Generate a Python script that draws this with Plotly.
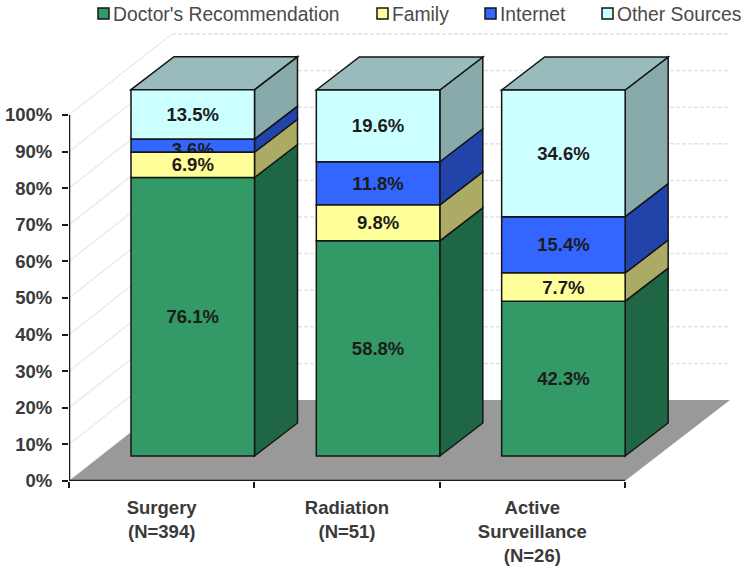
import plotly.graph_objects as go

categories = ["Surgery<br>(N=394)", "Radiation<br>(N=51)", "Active<br>Surveillance<br>(N=26)"]
series_names = ["Doctor's Recommendation", "Family", "Internet", "Other Sources"]
doctor = [76.1, 58.8, 42.3]
family = [6.9, 9.8, 7.7]
internet = [3.6, 11.8, 15.4]
other = [13.5, 19.6, 34.6]
y_ticks = [0, 10, 20, 30, 40, 50, 60, 70, 80, 90, 100]

front_colors = ["#339966", "#FFFF99", "#3366FF", "#CCFFFF"]
side_colors = ["#1F6645", "#ABAB66", "#2244AA", "#88AAAA"]
top_color = "#99BBBB"
edge = "#141414"
text_color = "#3a3a3a"

PX_X = 185.33          # pixels per category
PX_Y = 3.66            # pixels per percent
W, H = 750, 571
LEFT, RIGHT_M, TOP = 69, 10, 20
BOTTOM = H - 481
PW, PH = W - LEFT - RIGHT_M, H - TOP - BOTTOM
bar_off = (131 - 69) / PX_X - 0.5
bar_w = 123.5 / PX_X
bar_lift = 25 / PX_Y          # front faces stand in from the axis
dep_x, dep_y = 43 / PX_X, 33 / PX_Y      # bar depth
wall_x, wall_y = 103 / PX_X, 81 / PX_Y   # floor depth
floor_right = 2.5 + 105 / PX_X

series = [doctor, family, internet, other]
n = len(categories)
bases = []
run = [bar_lift] * n
for s in series:
    bases.append(list(run))
    run = [r + v for r, v in zip(run, s)]


def poly(pts, fill, line=edge, width=1.5):
    path = "M" + " L".join(f"{x:.4f},{y:.4f}" for x, y in pts) + " Z"
    ln = dict(color=line, width=width) if width else dict(width=0)
    return dict(type="path", path=path, xref="x", yref="y", fillcolor=fill, line=ln, layer="below")


shapes = []
# walls' grid lines
for v in y_ticks:
    shapes.append(dict(type="line", xref="x", yref="y", layer="below", x0=-0.5, y0=v,
                       x1=-0.5 + wall_x, y1=v + wall_y, line=dict(color="#ececec", width=1.5)))
    if v:
        shapes.append(dict(type="line", xref="x", yref="y", layer="below", x0=-0.5 + wall_x, y0=v + wall_y,
                           x1=floor_right, y1=v + wall_y, line=dict(color="#e4e4e4", width=1.5, dash="4px,2px")))
# floor
shapes.append(poly([(-0.5, 0), (2.5, 0), (floor_right, wall_y), (-0.5 + wall_x, wall_y)], "#999999", width=0))
# side and top faces, derived from the values
for i in range(n):
    right = i + bar_off + bar_w
    left = i + bar_off
    for k, s in enumerate(series):
        b, t = bases[k][i], bases[k][i] + s[i]
        shapes.append(poly([(right, b), (right + dep_x, b + dep_y), (right + dep_x, t + dep_y), (right, t)], side_colors[k]))
    T = run[i]
    shapes.append(poly([(left, T), (left + dep_x, T + dep_y), (right + dep_x, T + dep_y), (right, T)], top_color))


def px(x):
    return (x - LEFT) / PW


def py(y):
    return (H - BOTTOM - y) / PH


# legend
legend_x = [98, 377, 485, 602]
annotations = []
for name, c, x in zip(series_names, front_colors, legend_x):
    shapes.append(dict(type="rect", xref="paper", yref="paper", x0=px(x), x1=px(x + 11), y0=py(19), y1=py(8),
                       fillcolor=c, line=dict(color=edge, width=1.5)))
    annotations.append(dict(text=name, xref="paper", yref="paper", showarrow=False, xanchor="left", yanchor="middle",
                            x=px(x + 13), y=py(14),
                            font=dict(family="Liberation Sans", size=19.3, color="#4a4a4a")))

label_font = dict(family="Liberation Sans", size=18.5, color="#1c1c1c", weight="bold")
fig = go.Figure()
for k in [0, 2, 3]:
    labels = [f"{v}%" for v in series[k]]
    if k == 2:
        labels[0] = ""    # carried by the trace below
    fig.add_trace(go.Bar(
        x=list(range(n)), y=series[k], base=bases[k], name=series_names[k],
        width=bar_w, offset=bar_off,
        marker=dict(color=front_colors[k], line=dict(color=edge, width=1.5)),
        text=labels, textposition="inside", insidetextanchor="middle", textangle=0,
        constraintext="none", cliponaxis=False, insidetextfont=label_font, showlegend=False,
    ))
# Surgery's "3.6%" sits low in its narrow band and the yellow band covers its foot, as in the original
fig.add_trace(go.Bar(
    x=[0], y=[internet[0]], base=[bases[2][0] - 1.0], width=bar_w, offset=bar_off,
    marker=dict(color="rgba(0,0,0,0)", line=dict(width=0)),
    text=[f"{internet[0]}%"], textposition="inside", insidetextanchor="middle", textangle=0,
    constraintext="none", cliponaxis=False, insidetextfont=label_font, showlegend=False, hoverinfo="skip",
))
fig.add_trace(go.Bar(
    x=list(range(n)), y=family, base=bases[1], name=series_names[1],
    width=bar_w, offset=bar_off,
    marker=dict(color=front_colors[1], line=dict(color=edge, width=1.5)),
    text=[f"{v}%" for v in family], textposition="inside", insidetextanchor="middle", textangle=0,
    constraintext="none", cliponaxis=False, insidetextfont=label_font, showlegend=False,
))

# axis lines stop at the last category and at 100%
fig.add_trace(go.Scatter(x=[-0.5, -0.5, 2.5], y=[y_ticks[-1], 0, 0], mode="lines", cliponaxis=False,
                         line=dict(color="#1a1a1a", width=2.5), showlegend=False, hoverinfo="skip"))

fig.update_layout(
    width=W, height=H, autosize=False, barmode="overlay", showlegend=False, hovermode=False,
    margin=dict(l=LEFT, r=RIGHT_M, t=TOP, b=BOTTOM, pad=0),
    paper_bgcolor="white", plot_bgcolor="white",
    shapes=shapes, annotations=annotations,
    xaxis=dict(range=[-0.5, -0.5 + PW / PX_X], tickmode="array", tickvals=list(range(n)),
               ticktext=categories, ticks="", showgrid=False, zeroline=False, showline=False, automargin=False,
               ticklabelstandoff=13,
               minor=dict(tickmode="array", tickvals=[-0.5, 0.5, 1.5, 2.5], ticks="outside", ticklen=6,
                          tickwidth=2, tickcolor="#1a1a1a", showgrid=False),
               tickfont=dict(family="Liberation Sans", size=18.5, color=text_color, weight="bold")),
    yaxis=dict(range=[0, PH / PX_Y], tickmode="array", tickvals=y_ticks,
               ticktext=[f"{v}%" for v in y_ticks], ticks="outside", ticklen=6, tickwidth=2, tickcolor="#1a1a1a",
               showgrid=False, zeroline=False, showline=False, automargin=False, ticklabelstandoff=6,
               tickfont=dict(family="Liberation Sans", size=18.5, color=text_color, weight="bold")),
)
# drop the page's default body margin so the 750x571 figure fills the window
fig.write_html("out.html", config={"displayModeBar": False}, post_script="document.body.style.margin='0';")
